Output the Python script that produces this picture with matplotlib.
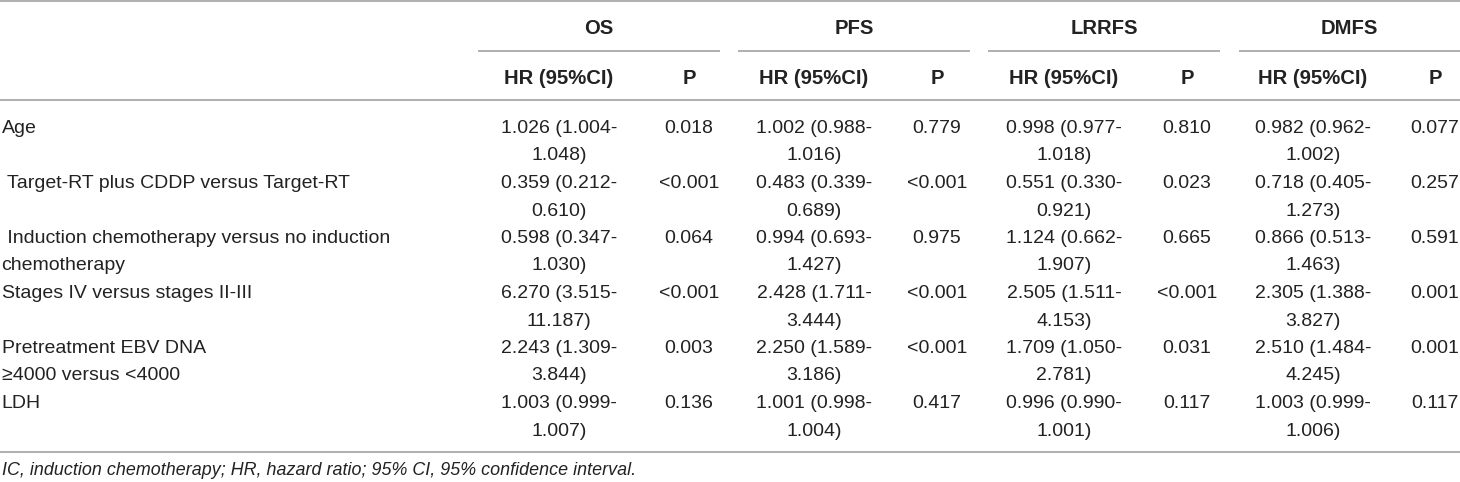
import matplotlib
matplotlib.use("Agg")
import matplotlib.pyplot as plt

plt.rcParams['font.family'] = ['Liberation Sans', 'DejaVu Sans']

# ---------------- data ----------------
endpoints = ["OS", "PFS", "LRRFS", "DMFS"]
sub_headers = ["HR (95%CI)", "P"]
variables = [
    ["Age"],
    [" Target-RT plus CDDP versus Target-RT"],
    [" Induction chemotherapy versus no induction", "chemotherapy"],
    ["Stages IV versus stages II-III"],
    ["Pretreatment EBV DNA", "\u22654000 versus <4000"],
    ["LDH"],
]
os_hr = [1.026, 0.359, 0.598, 6.270, 2.243, 1.003]
os_lo = [1.004, 0.212, 0.347, 3.515, 1.309, 0.999]
os_hi = [1.048, 0.610, 1.030, 11.187, 3.844, 1.007]
os_p = ["0.018", "<0.001", "0.064", "<0.001", "0.003", "0.136"]

pfs_hr = [1.002, 0.483, 0.994, 2.428, 2.250, 1.001]
pfs_lo = [0.988, 0.339, 0.693, 1.711, 1.589, 0.998]
pfs_hi = [1.016, 0.689, 1.427, 3.444, 3.186, 1.004]
pfs_p = ["0.779", "<0.001", "0.975", "<0.001", "<0.001", "0.417"]

lrrfs_hr = [0.998, 0.551, 1.124, 2.505, 1.709, 0.996]
lrrfs_lo = [0.977, 0.330, 0.662, 1.511, 1.050, 0.990]
lrrfs_hi = [1.018, 0.921, 1.907, 4.153, 2.781, 1.001]
lrrfs_p = ["0.810", "0.023", "0.665", "<0.001", "0.031", "0.117"]

dmfs_hr = [0.982, 0.718, 0.866, 2.305, 2.510, 1.003]
dmfs_lo = [0.962, 0.405, 0.513, 1.388, 1.484, 0.999]
dmfs_hi = [1.002, 1.273, 1.463, 3.827, 4.245, 1.006]
dmfs_p = ["0.077", "0.257", "0.591", "0.001", "0.001", "0.117"]

footnote = "IC, induction chemotherapy; HR, hazard ratio; 95% CI, 95% confidence interval."

series = [
    (os_hr, os_lo, os_hi, os_p),
    (pfs_hr, pfs_lo, pfs_hi, pfs_p),
    (lrrfs_hr, lrrfs_lo, lrrfs_hi, lrrfs_p),
    (dmfs_hr, dmfs_lo, dmfs_hi, dmfs_p),
]

# ---------------- layout ----------------
W, H = 1460, 482
fig = plt.figure(figsize=(W / 100, H / 100), dpi=100)
ax = fig.add_axes([0, 0, 1, 1])
ax.set_xlim(0, W)
ax.set_ylim(H, 0)
ax.axis("off")

FS = 14.0
FS_HEAD = 14.6
FS_NOTE = 12.9
TXT = "#222222"
LINE = "#9a9a9a"
LW = 1.1

group_spans = [(478, 720), (738, 970), (988, 1220), (1239, 1460)]
hr_x = [559, 814, 1064, 1313]
p_x = [689, 937, 1187, 1435]

base_off = 7.0  # center -> baseline
row0 = 126.0
line_h = 27.5

# rules
ax.plot([0, W], [1, 1], color=LINE, lw=LW, solid_capstyle="butt")
ax.plot([0, W], [100, 100], color=LINE, lw=LW, solid_capstyle="butt")
ax.plot([0, W], [452, 452], color=LINE, lw=LW, solid_capstyle="butt")
for (x0, x1) in group_spans:
    ax.plot([x0, x1], [51, 51], color=LINE, lw=LW, solid_capstyle="butt")

# headers
for i, name in enumerate(endpoints):
    x0, x1 = group_spans[i]
    ax.text((x0 + x1) / 2, 27 + base_off, name, ha="center", va="baseline",
            fontsize=FS_HEAD, fontweight="bold", color=TXT)
    ax.text(hr_x[i], 77 + base_off, sub_headers[0], ha="center", va="baseline",
            fontsize=FS_HEAD, fontweight="bold", color=TXT)
    ax.text(p_x[i], 77 + base_off, sub_headers[1], ha="center", va="baseline",
            fontsize=FS_HEAD, fontweight="bold", color=TXT)

# body
for r, lab in enumerate(variables):
    y1 = row0 + 2 * line_h * r
    for k, ln in enumerate(lab):
        ax.text(1.5, y1 + k * line_h + base_off, ln, ha="left", va="baseline",
                fontsize=FS, color=TXT)
    for i, (hr, lo, hi, pv) in enumerate(series):
        ax.text(hr_x[i], y1 + base_off, f"{hr[r]:.3f} ({lo[r]:.3f}-",
                ha="center", va="baseline", fontsize=FS, color=TXT)
        ax.text(hr_x[i], y1 + line_h + base_off, f"{hi[r]:.3f})",
                ha="center", va="baseline", fontsize=FS, color=TXT)
        ax.text(p_x[i], y1 + base_off, pv[r], ha="center", va="baseline",
                fontsize=FS, color=TXT)

ax.text(1.5, 475, footnote, ha="left", va="baseline",
        fontsize=FS_NOTE, fontstyle="italic", color=TXT)

fig.savefig("out.png", dpi=100)
